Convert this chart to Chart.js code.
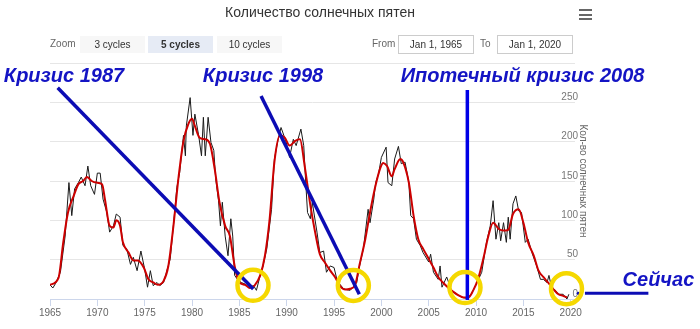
<!DOCTYPE html>
<html>
<head>
<meta charset="utf-8">
<script src="https://cdn.jsdelivr.net/npm/chart.js@4/dist/chart.umd.min.js"></script>
<style>
  body { margin: 0; background: #fff; font-family: "Liberation Sans", Arial, sans-serif; }
  #wrap { position: relative; width: 700px; height: 329px; overflow: hidden; }
  #chart { position: absolute; left: 0; top: 0; }
  .title { position: absolute; left: 220px; width: 200px; top: 4px; text-align: center; font-size: 14px; color: #333; white-space: nowrap; }
  .menu { position: absolute; left: 579px; top: 9px; width: 13px; }
  .menu span { display: block; height: 2px; background: #666; margin-bottom: 2.5px; }
  .lbl { position: absolute; top: 38px; font-size: 10px; color: #666; }
  .btn { position: absolute; top: 36px; width: 65px; height: 17px; line-height: 17px; text-align: center; font-size: 10px; color: #333; background: #f7f7f7; }
  .btn.sel { background: #e6ebf5; font-weight: bold; }
  .inp { position: absolute; top: 35px; width: 74px; height: 17px; line-height: 17px; text-align: center; font-size: 10px; color: #333; border: 1px solid #cccccc; background: #fff; }
</style>
</head>
<body>
<div id="wrap">
  <canvas id="chart" width="700" height="329"></canvas>
  <div class="title">Количество солнечных пятен</div>
  <div class="menu"><span></span><span></span><span></span></div>
  <div class="lbl" style="left:50px">Zoom</div>
  <div class="btn" style="left:80px">3 cycles</div>
  <div class="btn sel" style="left:148px">5 cycles</div>
  <div class="btn" style="left:217px">10 cycles</div>
  <div class="lbl" style="left:372px">From</div>
  <div class="inp" style="left:398px">Jan 1, 1965</div>
  <div class="lbl" style="left:480px">To</div>
  <div class="inp" style="left:497px">Jan 1, 2020</div>
</div>
<script>
// raw sunspot numbers (black)
const rawYears = [1965.0, 1965.3, 1965.6, 1966.1, 1966.6, 1967.0, 1967.3, 1967.6, 1968.0, 1968.3, 1968.7, 1969.0, 1969.3, 1969.7,
  1970.0, 1970.3, 1970.6, 1971.0, 1971.3, 1971.7, 1972.0, 1972.4, 1972.7, 1973.1, 1973.5, 1973.8, 1974.2, 1974.6,
  1975.0, 1975.3, 1975.6, 1975.9, 1976.3, 1976.6, 1977.0, 1977.3, 1977.7, 1978.0, 1978.4, 1978.7, 1979.1, 1979.3,
  1979.4, 1979.8, 1980.1, 1980.3, 1980.7, 1981.0, 1981.2, 1981.4, 1981.7, 1982.0, 1982.3, 1982.5, 1982.8, 1983.0,
  1983.2, 1983.5, 1983.8, 1984.1, 1984.3, 1984.5, 1984.8, 1985.2, 1985.6, 1986.0, 1986.5, 1986.8, 1987.2, 1987.5,
  1987.9, 1988.4, 1988.7, 1989.1, 1989.4, 1989.7, 1990.0, 1990.3, 1990.7, 1991.0, 1991.5, 1991.8, 1992.0, 1992.2,
  1992.5, 1992.7, 1993.2, 1993.5, 1993.9, 1994.2, 1994.6, 1995.0, 1995.3, 1995.6, 1996.0, 1996.3, 1996.7, 1997.0,
  1997.4, 1997.7, 1998.1, 1998.6, 1998.8, 1999.2, 1999.4, 1999.7, 2000.0, 2000.5, 2000.7, 2001.1, 2001.4, 2001.8,
  2002.1, 2002.5, 2002.9, 2003.1, 2003.4, 2003.7, 2004.1, 2004.4, 2005.0, 2005.2, 2005.5, 2006.0, 2006.2, 2006.4,
  2006.9, 2007.4, 2008.0, 2008.5, 2009.0, 2009.5, 2010.1, 2010.6, 2011.1, 2011.5, 2011.8, 2012.1, 2012.4, 2012.6,
  2012.9, 2013.2, 2013.4, 2013.6, 2013.9, 2014.2, 2014.5, 2014.8, 2015.2, 2015.5, 2015.9, 2016.4, 2016.8, 2017.1,
  2017.5, 2017.7, 2018.0, 2018.3, 2018.7, 2019.2, 2019.6, 2019.8];
const rawValues = [18, 14, 20, 34, 80, 148, 106, 140, 148, 155, 144, 169, 144, 133,
  160, 160, 127, 110, 85, 93, 108, 104, 68, 64, 44, 53, 36, 61,
  38, 15, 36, 17, 21, 17, 21, 34, 51, 89, 142, 161, 208, 182,
  220, 256, 208, 235, 208, 182, 231, 182, 231, 199, 189, 153, 125, 93,
  123, 80, 55, 102, 80, 30, 25, 21, 19, 15, 17, 11, 30, 42,
  64, 114, 178, 203, 218, 208, 197, 180, 203, 195, 216, 195, 150, 110,
  102, 123, 85, 59, 61, 34, 42, 40, 25, 19, 13, 12, 11, 15,
  21, 42, 64, 114, 97, 127, 148, 159, 180, 193, 148, 144, 178, 194,
  172, 174, 148, 106, 102, 76, 68, 59, 47, 57, 34, 25, 42, 15,
  28, 11, 6, 2, 1, 6, 21, 34, 72, 93, 125, 76, 97, 74,
  97, 72, 104, 76, 121, 131, 112, 110, 72, 76, 59, 42, 25, 25,
  21, 30, 13, 12, 6, 6, 0, 6];

// smoothed sunspot numbers (red)
const smoothYears = [1965.0, 1965.9, 1966.4, 1966.9, 1967.5, 1968.0, 1968.5, 1968.9, 1969.4, 1969.9, 1970.5, 1970.8,
  1971.3, 1971.7, 1972.0, 1972.4, 1972.7, 1973.3, 1973.8, 1974.3, 1974.9, 1975.4, 1975.9, 1976.4, 1977.0, 1977.5,
  1978.0, 1978.6, 1979.1, 1979.6, 1980.0, 1980.3, 1980.8, 1981.4, 1981.9, 1982.4, 1982.9, 1983.5, 1984.0, 1984.5,
  1985.0, 1985.6, 1986.1, 1986.6, 1987.2, 1987.7, 1988.2, 1988.7, 1989.3, 1989.8, 1990.3, 1990.9, 1991.4, 1991.9,
  1992.5, 1993.0, 1993.5, 1994.0, 1994.6, 1995.1, 1995.6, 1996.2, 1996.7, 1997.2, 1997.7, 1998.3, 1998.8, 1999.3,
  1999.9, 2000.2, 2000.6, 2001.1, 2001.4, 2002.0, 2002.3, 2002.9, 2003.4, 2003.9, 2004.4, 2005.0, 2005.5, 2006.0,
  2006.5, 2007.1, 2007.6, 2008.1, 2008.7, 2009.2, 2009.7, 2010.2, 2010.8, 2011.3, 2011.8, 2012.4, 2012.9, 2013.4,
  2013.9, 2014.5, 2015.0, 2015.5, 2016.1, 2016.6, 2017.1, 2017.6, 2018.2, 2018.7, 2019.2, 2019.6];
const smoothValues = [18, 27, 72, 110, 131, 146, 150, 155, 150, 148, 146, 127,
  93, 91, 100, 93, 72, 59, 49, 49, 40, 25, 21, 18, 23, 42,
  89, 157, 201, 222, 229, 220, 205, 203, 197, 165, 123, 93, 80, 42,
  21, 18, 14, 17, 30, 55, 102, 174, 208, 205, 195, 201, 203, 169,
  119, 85, 57, 47, 36, 28, 17, 12, 13, 17, 44, 76, 110, 140,
  167, 173, 169, 156, 165, 178, 174, 148, 106, 76, 64, 51, 40, 28,
  21, 14, 9, 5, 2, 2, 11, 25, 53, 80, 97, 89, 87, 88,
  108, 114, 97, 72, 55, 36, 28, 21, 12, 6, 4, 2];

const yearMin = 1965;
const yearMax = 2020.45;
const yTicks = [0, 50, 100, 150, 200, 250, 300];

// annotations, in (year, value) coordinates
const noteTexts = ['Кризис 1987', 'Кризис 1998', 'Ипотечный кризис 2008', 'Сейчас'];
const noteAt = [[1966.48, 276], [1987.5, 276], [2014.91, 276], [2029.26, 16.5]];
const ringAt = [[1986.44, 17.4], [1997.04, 17.2], [2008.83, 14.6], [2019.55, 13.1]];
const pointerLines = [
  [1965.81, 268.6, 1986.47, 12.7],
  [1987.29, 258.0, 1997.67, 6.0],
  [2009.08, 265.7, 2009.08, -1.3],
  [2021.5, 7.2, 2028.2, 7.2]
];
const nowDot = [2020.8, 7.2];

function zip(xs, ys) {
  return xs.map((x, i) => ({ x: x, y: ys[i] }));
}

const notesPlugin = {
  id: 'notes',
  afterDraw(chart) {
    const ctx = chart.ctx;
    const xs = chart.scales.x, ys = chart.scales.y;
    const px = v => xs.getPixelForValue(v);
    const py = v => ys.getPixelForValue(v);
    ctx.save();
    ctx.lineCap = 'butt';
    pointerLines.forEach((l, i) => {
      ctx.beginPath();
      ctx.strokeStyle = i === 2 ? '#0000e6' : '#0c0cb4';
      ctx.lineWidth = i === 3 ? 3 : 3.5;
      ctx.moveTo(px(l[0]), py(l[1]));
      ctx.lineTo(px(l[2]), py(l[3]));
      ctx.stroke();
    });
    ctx.fillStyle = '#0c0cb4';
    ctx.beginPath();
    ctx.arc(px(nowDot[0]), py(nowDot[1]), 1.6, 0, Math.PI * 2);
    ctx.fill();
    ringAt.forEach(r => {
      ctx.beginPath();
      ctx.strokeStyle = '#f5d800';
      ctx.lineWidth = 4.5;
      ctx.arc(px(r[0]), py(r[1]), 15.5, 0, Math.PI * 2);
      ctx.stroke();
    });
    ctx.font = 'italic bold 20px "Liberation Sans", Arial, sans-serif';
    ctx.fillStyle = '#1414c4';
    ctx.textAlign = 'center';
    ctx.textBaseline = 'alphabetic';
    noteTexts.forEach((t, i) => {
      ctx.fillText(t, px(noteAt[i][0]), py(noteAt[i][1]));
    });
    ctx.restore();
  }
};

const config = {
  type: 'line',
  data: {
    datasets: [{
      label: 'Сглаженное',
      data: zip(smoothYears, smoothValues),
      borderColor: '#cc0000',
      borderWidth: 2,
      pointRadius: 0,
      cubicInterpolationMode: 'monotone',
      order: 0
    }, {
      label: 'Кол-во солнечных пятен',
      data: zip(rawYears, rawValues),
      borderColor: '#1a1a1a',
      borderWidth: 1,
      pointRadius: 0,
      tension: 0,
      order: 1
    }]
  },
  options: {
    responsive: false,
    animation: false,
    devicePixelRatio: 1,
    layout: { padding: { left: 50, top: 63, right: 111, bottom: 0 } },
    plugins: { legend: { display: false }, tooltip: { enabled: false } },
    scales: {
      x: {
        type: 'linear',
        min: yearMin,
        max: yearMax,
        afterFit: s => { s.height = 30; },
        border: { color: '#ccd6eb' },
        grid: { drawOnChartArea: false, color: '#ccd6eb', tickLength: 7 },
        ticks: {
          stepSize: 5,
          includeBounds: false,
          autoSkip: false,
          maxRotation: 0,
          padding: 1,
          color: '#666',
          font: { size: 10, family: '"Liberation Sans", Arial, sans-serif' },
          callback: v => String(v)
        }
      },
      y: {
        position: 'right',
        min: 0,
        max: 300,
        afterFit: s => { s.width = 14; },
        afterBuildTicks: s => { s.ticks = yTicks.map(v => ({ value: v })); },
        border: { display: false },
        grid: { color: '#e6e6e6', drawTicks: false },
        ticks: {
          mirror: true,
          padding: 3,
          labelOffset: -5,
          color: '#777',
          font: { size: 10, family: '"Liberation Sans", Arial, sans-serif' },
          callback: v => (v === 300 ? '' : String(v))
        },
        title: {
          display: true,
          text: 'Кол-во солнечных пятен',
          color: '#666',
          padding: 0,
          font: { size: 10, family: '"Liberation Sans", Arial, sans-serif' }
        }
      }
    }
  },
  plugins: [notesPlugin]
};

const myChart = new Chart(document.getElementById('chart'), config);
</script>
</body>
</html>
